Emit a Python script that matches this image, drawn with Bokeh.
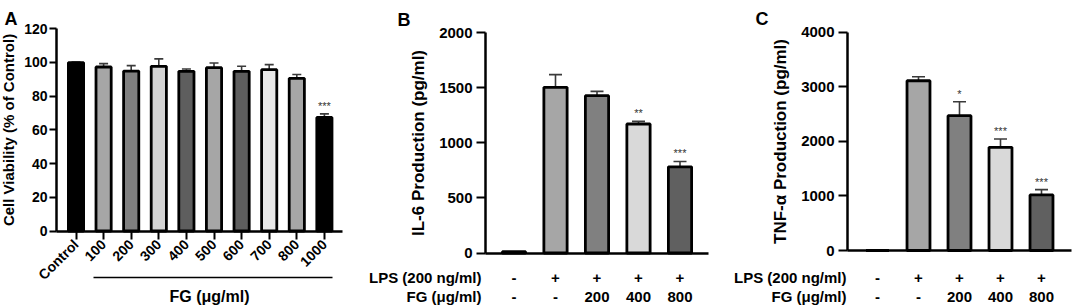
from math import pi
from bokeh.plotting import figure
from bokeh.layouts import row
from bokeh.models import Range1d, FixedTicker, Whisker, TeeHead, ColumnDataSource
from bokeh.core.properties import value
from bokeh.embed import file_html
from bokeh.resources import INLINE

# ---------------- data ----------------
a_categories = ["Control", "100", "200", "300", "400", "500", "600", "700", "800", "1000"]
a_values = [99.8, 97.2, 94.8, 97.6, 94.6, 96.8, 94.6, 95.6, 90.5, 67.3]
a_errors = [0.3, 2.0, 3.2, 4.4, 1.4, 2.8, 3.0, 3.0, 2.2, 2.1]
a_colors = ["#000000", "#a6a6a6", "#808080", "#d4d4d4", "#5e5e5e",
            "#a6a6a6", "#5e5e5e", "#e8e8e8", "#a6a6a6", "#000000"]
a_stars = ["", "", "", "", "", "", "", "", "", "***"]
a_yticks = [0, 20, 40, 60, 80, 100, 120]

lps_row = ["-", "+", "+", "+", "+"]
fg_row = ["-", "-", "200", "400", "800"]
bc_colors = ["#000000", "#a6a6a6", "#808080", "#d9d9d9", "#606060"]

b_values = [12, 1503, 1427, 1170, 782]
b_errors = [0, 115, 39, 24, 48]
b_stars = ["", "", "", "**", "***"]
b_yticks = [0, 500, 1000, 1500, 2000]

c_values = [0, 3108, 2468, 1889, 1018]
c_errors = [0, 73, 256, 153, 97]
c_stars = ["", "", "*", "***", "***"]
c_yticks = [0, 1000, 2000, 3000, 4000]

FONT = value("Liberation Sans")
H = 307


def make_panel(width, L, values, errors, colors, stars, yticks, ylabel,
               letter, tick_font, label_font, bar_width, cap):
    fc, sp = L["first_center"], L["spacing"]
    s = (L["y_zero"] - L["y_top"]) / yticks[-1]
    X = lambda px: (px - fc) / sp
    Y = lambda py: (L["y_zero"] - py) / s

    p = figure(width=width, height=H, x_range=Range1d(X(0), X(width)),
               y_range=Range1d(Y(H), Y(0)), output_backend="svg",
               toolbar_location=None, min_border=0)
    p.outline_line_color = None
    p.grid.visible = False
    p.background_fill_color = "white"

    xs = list(range(len(values)))
    src = ColumnDataSource(dict(x=xs, top=values,
                                upper=[v + e for v, e in zip(values, errors)],
                                color=colors, stars=stars))
    p.vbar(x="x", top="top", bottom=0, width=bar_width, source=src,
           fill_color="color", line_color="black", line_width=2.8)

    wh = Whisker(source=src, base="x", lower="top", upper="upper",
                 lower_head=None,
                 upper_head=TeeHead(size=cap, line_width=1.6, line_color="#3a3a3a"),
                 line_width=1.6, line_color="#3a3a3a")
    p.add_layout(wh)

    p.text(x="x", y="upper", text="stars", source=src, text_align="center",
           text_baseline="bottom", y_offset=-2, text_font=FONT,
           text_font_size="11px", text_color="#333333")

    # y axis
    ya = p.yaxis[0]
    ya.fixed_location = X(L["y_axis"])
    ya.bounds = (0, yticks[-1])
    ya.ticker = FixedTicker(ticks=yticks)
    ya.minor_tick_line_color = None
    ya.major_tick_out = L["tick"]
    ya.major_tick_in = 0
    ya.major_tick_line_width = 2
    ya.axis_line_width = 2.5
    ya.major_label_text_font = "Liberation Sans"
    ya.major_label_text_font_style = "bold"
    ya.major_label_text_font_size = tick_font
    ya.major_label_text_color = "black"
    ya.major_label_standoff = L["standoff"]
    ya.axis_label = ylabel
    ya.axis_label_text_font = "Liberation Sans"
    ya.axis_label_text_font_style = "bold"
    ya.axis_label_text_font_size = label_font
    ya.axis_label_text_color = "black"
    ya.axis_label_standoff = L["label_standoff"]

    # x axis
    xa = p.xaxis[0]
    xa.fixed_location = 0
    xa.bounds = (X(L["y_axis"]), X(L["x_end"]))
    xa.axis_line_width = 2.5
    xa.minor_tick_line_color = None
    xa.major_tick_in = 0
    xa.major_tick_line_width = 2

    p.text(x=[X(L["letter_x"])], y=[Y(L["letter_y"])], text=[letter],
           text_font=FONT, text_font_style="bold", text_font_size="18px",
           text_baseline="alphabetic", text_align="left", text_color="black")
    return p, X, Y


# ---------------- Panel A ----------------
LA = dict(first_center=75.5, spacing=27.6, y_axis=56, x_end=342,
          y_top=28, y_zero=230.5, tick=7, standoff=2, label_standoff=4,
          letter_x=4, letter_y=18)
pa, XA, YA = make_panel(358, LA, a_values, a_errors, a_colors, a_stars,
                        a_yticks, "Cell Viability (% of Control)", "A",
                        "14px", "15px", 0.55, 9)
xa = pa.xaxis[0]
xa.ticker = FixedTicker(ticks=list(range(len(a_categories))))
xa.major_label_overrides = {i: c for i, c in enumerate(a_categories)}
xa.major_label_orientation = pi / 4
xa.major_tick_out = 8
xa.major_label_standoff = 3
xa.major_label_text_font = "Liberation Sans"
xa.major_label_text_font_style = "bold"
xa.major_label_text_font_size = "14px"
xa.major_label_text_color = "black"
pa.segment(x0=[XA(93)], y0=[YA(277)], x1=[XA(332)], y1=[YA(277)],
           line_color="black", line_width=1.6)
pa.text(x=[XA(209)], y=[YA(296)], text=["FG (\u03bcg/ml)"], text_font=FONT,
        text_font_style="bold", text_font_size="16px", text_align="center",
        text_baseline="middle", text_color="black")


def add_rows(p, X, Y, L):
    xs = list(range(len(lps_row)))
    for label, vals, ypx in (("LPS (200 ng/ml)", lps_row, L["row1"]),
                             ("FG (\u03bcg/ml)", fg_row, L["row2"])):
        p.text(x=[X(L["row_right"])], y=[Y(ypx)], text=[label], text_font=FONT,
               text_font_style="bold", text_font_size="15px", text_align="right",
               text_baseline="middle", text_color="black")
        p.text(x=xs, y=[Y(ypx)] * len(xs), text=vals, text_font=FONT,
               text_font_style="bold", text_font_size="15px", text_align="center",
               text_baseline="middle", text_color="black")


def finish_bc_xaxis(p):
    xa = p.xaxis[0]
    xa.ticker = FixedTicker(ticks=[])
    xa.major_tick_line_color = None
    xa.major_label_text_font_size = "0px"


# ---------------- Panel B ----------------
LB = dict(first_center=155.5, spacing=41.5, y_axis=127, x_end=350,
          y_top=32, y_zero=252.5, tick=9, standoff=4, label_standoff=8,
          letter_x=39, letter_y=19, row_right=123, row1=277, row2=296)
pb, XB, YB = make_panel(354, LB, b_values, b_errors, bc_colors, b_stars,
                        b_yticks, "IL-6 Production (pg/ml)", "B",
                        "15px", "17px", 0.56, 13)
finish_bc_xaxis(pb)
add_rows(pb, XB, YB, LB)

# ---------------- Panel C ----------------
LC = dict(first_center=165, spacing=41, y_axis=135, x_end=359,
          y_top=31.5, y_zero=250, tick=9, standoff=4, label_standoff=8,
          letter_x=43, letter_y=18, row_right=134, row1=277, row2=296)
pc, XC, YC = make_panel(360, LC, c_values, c_errors, bc_colors, c_stars,
                        c_yticks, "TNF-\u03b1 Production (pg/ml)", "C",
                        "15px", "17px", 0.56, 13)
finish_bc_xaxis(pc)
add_rows(pc, XC, YC, LC)

layout = row(pa, pb, pc)
open("out.html", "w").write(file_html(layout, INLINE))
